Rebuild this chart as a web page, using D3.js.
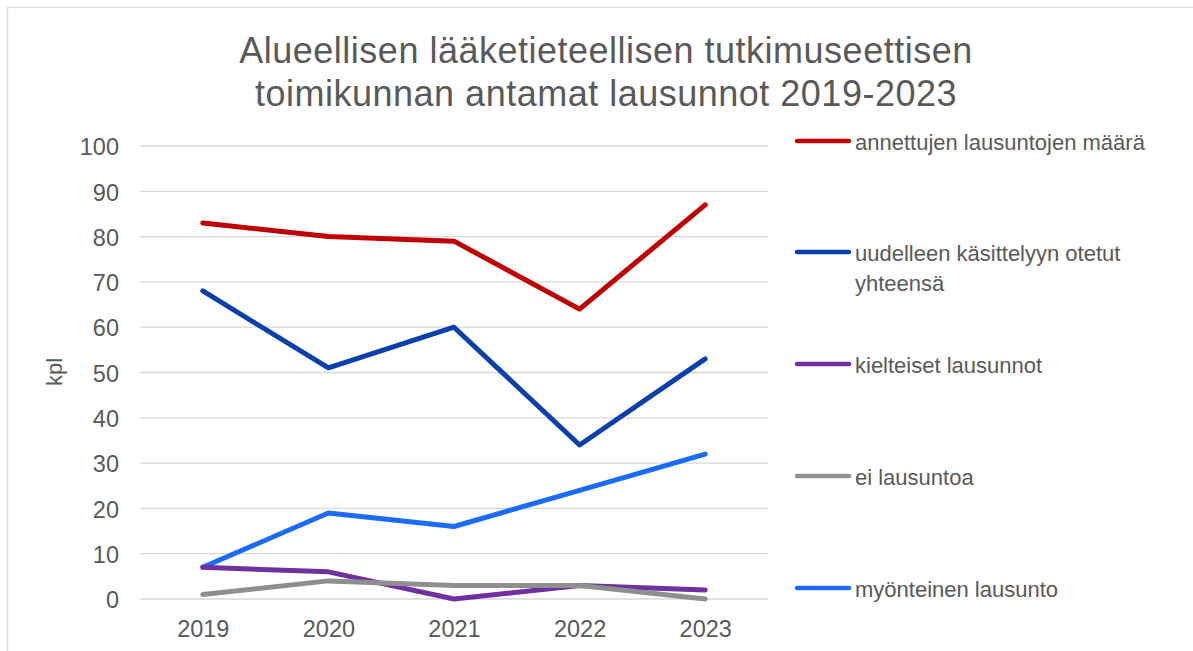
<!DOCTYPE html>
<meta charset="utf-8">
<head>
  <title>Lausunnot 2019-2023</title>
</head>
<style>
body { margin: 0; background: #fff; font-family: "Liberation Sans", Arial, sans-serif; }
.grid line { stroke: #d9d9d9; stroke-width: 1.3px; }
.tick text { fill: #595959; font-size: 23.5px; }
.line { fill: none; stroke-width: 5px; stroke-linejoin: round; stroke-linecap: round; }
</style>
<body>
<svg id="chart" width="1193" height="651"></svg>
<script src="https://cdnjs.cloudflare.com/ajax/libs/d3/7.8.5/d3.min.js"></script>
<script>
var years = ["2019", "2020", "2021", "2022", "2023"];
var yTicks = [0, 10, 20, 30, 40, 50, 60, 70, 80, 90, 100];

var annetut = [83, 80, 79, 64, 87];
var uudelleen = [68, 51, 60, 34, 53];
var kielteiset = [7, 6, 0, 3, 2];
var eiLausuntoa = [1, 4, 3, 3, 0];
var myonteinen = [7, 19, 16, 24, 32];

var series = [
  { name: ["annettujen lausuntojen määrä"], values: annetut, color: "#c00000" },
  { name: ["uudelleen käsittelyyn otetut", "yhteensä"], values: uudelleen, color: "#0b3fad" },
  { name: ["kielteiset lausunnot"], values: kielteiset, color: "#7030a0" },
  { name: ["ei lausuntoa"], values: eiLausuntoa, color: "#8f8f8f" },
  { name: ["myönteinen lausunto"], values: myonteinen, color: "#1a6bff" }
];
// drawing order (last on top)
var drawOrder = [0, 1, 4, 2, 3];

var svg = d3.select("#chart");

// chart border
svg.append("rect")
  .attr("x", 7.5).attr("y", 7.5)
  .attr("width", 1200).attr("height", 700)
  .attr("fill", "none").attr("stroke", "#d9d9d9").attr("stroke-width", 1.3);

var x = d3.scalePoint().domain(years).range([140, 768]).padding(0.5);
var y = d3.scaleLinear().domain([0, 100]).range([599, 146]);

// gridlines
svg.append("g").attr("class", "grid")
  .selectAll("line").data(yTicks).enter().append("line")
  .attr("x1", 140).attr("x2", 768)
  .attr("y1", function(d) { return y(d); })
  .attr("y2", function(d) { return y(d); });

// y axis
var yAxis = svg.append("g")
  .attr("transform", "translate(140,0)")
  .call(d3.axisLeft(y).tickValues(yTicks).tickSize(0).tickPadding(21));
yAxis.select(".domain").remove();
yAxis.selectAll(".tick text").attr("dy", "0.37em");

// x axis
var xAxis = svg.append("g")
  .attr("transform", "translate(0,599)")
  .call(d3.axisBottom(x).tickSize(0).tickPadding(21));
xAxis.select(".domain").remove();

// y axis title
svg.append("text")
  .attr("transform", "translate(62,372) rotate(-90)")
  .attr("text-anchor", "middle")
  .attr("fill", "#595959")
  .style("font-size", "22px")
  .text("kpl");

// title
svg.append("text")
  .attr("x", 606).attr("y", 63)
  .attr("text-anchor", "middle")
  .attr("fill", "#595959")
  .style("font-size", "36px")
  .style("letter-spacing", "0.5px")
  .selectAll("tspan")
  .data(["Alueellisen lääketieteellisen tutkimuseettisen", "toimikunnan antamat lausunnot 2019-2023"])
  .enter().append("tspan")
  .attr("x", 606)
  .attr("dy", function(d, i) { return i ? 43 : 0; })
  .text(function(d) { return d; });

// lines
var line = d3.line()
  .x(function(d, i) { return x(years[i]); })
  .y(function(d) { return y(d); });

drawOrder.forEach(function(k) {
  var s = series[k];
  svg.append("path")
    .datum(s.values)
    .attr("class", "line")
    .attr("stroke", s.color)
    .attr("d", line);
});

// legend
var legendY = [141, 252, 364, 476, 588];
series.forEach(function(s, i) {
  var g = svg.append("g").attr("transform", "translate(0," + legendY[i] + ")");
  g.append("line")
    .attr("x1", 797).attr("x2", 849)
    .attr("y1", 0).attr("y2", 0)
    .attr("stroke", s.color).attr("stroke-width", 4.5)
    .attr("stroke-linecap", "round");
  g.append("text")
    .attr("x", 855).attr("y", 8.5)
    .attr("fill", "#595959")
    .style("font-size", "22px")
    .selectAll("tspan").data(s.name).enter().append("tspan")
    .attr("x", 855)
    .attr("dy", function(d, j) { return j ? 30 : 0; })
    .text(function(d) { return d; });
});
</script>
</body>
</html>
